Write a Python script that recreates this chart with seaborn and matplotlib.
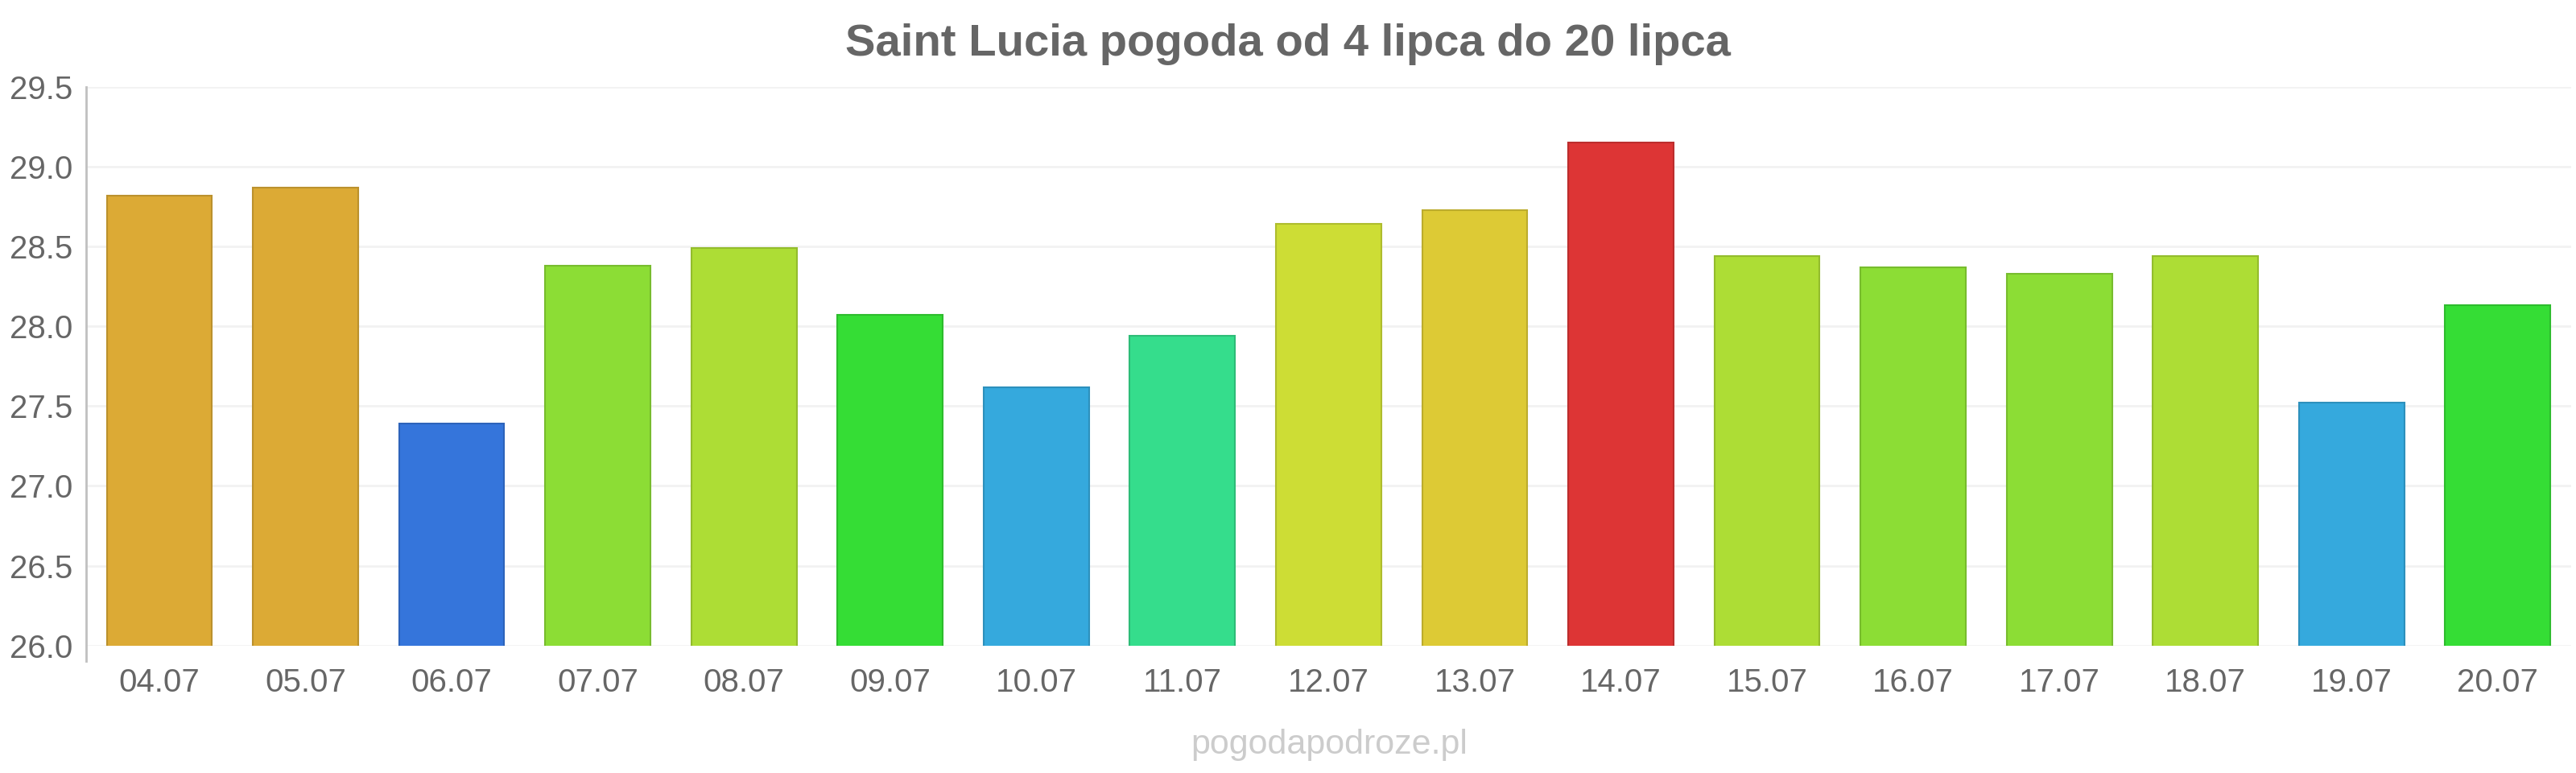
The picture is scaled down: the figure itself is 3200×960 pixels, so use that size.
import pandas as pd
import seaborn as sns
import matplotlib.pyplot as plt

# dane z wykresu
dates = ['04.07', '05.07', '06.07', '07.07', '08.07', '09.07', '10.07', '11.07', '12.07',
         '13.07', '14.07', '15.07', '16.07', '17.07', '18.07', '19.07', '20.07']
temps = [28.82, 28.87, 27.39, 28.38, 28.49, 28.07, 27.62, 27.94, 28.64,
         28.73, 29.15, 28.44, 28.37, 28.33, 28.44, 27.52, 28.13]
colors = ['#dcaa35', '#dcaa35', '#3575db', '#8cdd35', '#addd35', '#35dd35', '#35a9dd', '#35dd8c', '#cddd35',
          '#ddca35', '#dd3535', '#addd35', '#8cdd35', '#8cdd35', '#addd35', '#35a9dd', '#35dd35']
yticks = [26.0, 26.5, 27.0, 27.5, 28.0, 28.5, 29.0, 29.5]

df = pd.DataFrame({'data': dates, 'temp': temps})

sns.set_style('white')
plt.rcParams['font.family'] = ['Liberation Sans', 'DejaVu Sans']

fig = plt.figure(figsize=(32, 9.6), dpi=100)
ax = fig.add_axes([0.0335, 0.165, 0.9645, 0.7225])

sns.barplot(data=df, x='data', y='temp', hue='data', palette=colors, legend=False,
            width=0.72, saturation=1, ax=ax, zorder=3)
# lekko ciemniejsza obwodka
for p, c in zip(ax.patches, colors):
    r, g, b = [int(c[i:i + 2], 16) / 255 for i in (1, 3, 5)]
    p.set_edgecolor((r * 0.85, g * 0.85, b * 0.85))
    p.set_linewidth(1.5)

ax.set_ylim(26.0, 29.5)
ax.set_xlim(-0.5, 16.5)
ax.set_yticks(yticks)
ax.set_yticklabels([f'{v:.1f}' for v in yticks])
ax.yaxis.grid(True, color='#f2f2f2', linewidth=2, zorder=0)
ax.set_axisbelow(True)

for s in ['top', 'right', 'bottom']:
    ax.spines[s].set_visible(False)
ax.spines['left'].set_color('#c0c0c0')
ax.spines['left'].set_linewidth(2)
ax.spines['left'].set_bounds(25.9, 29.5)

ax.tick_params(axis='both', labelsize=29, labelcolor='#666666', length=0)
ax.tick_params(axis='x', pad=20)
ax.tick_params(axis='y', pad=12)
ax.set_xlabel('')
ax.set_ylabel('')

fig.text(0.5, 0.943, 'Saint Lucia pogoda od 4 lipca do 20 lipca', ha='center', va='center',
         fontsize=40.5, fontweight='bold', color='#666666')
fig.text(0.516, 0.036, 'pogodapodroze.pl', ha='center', va='center',
         fontsize=31, color='#cccccc')

fig.savefig('out.png', dpi=100)
